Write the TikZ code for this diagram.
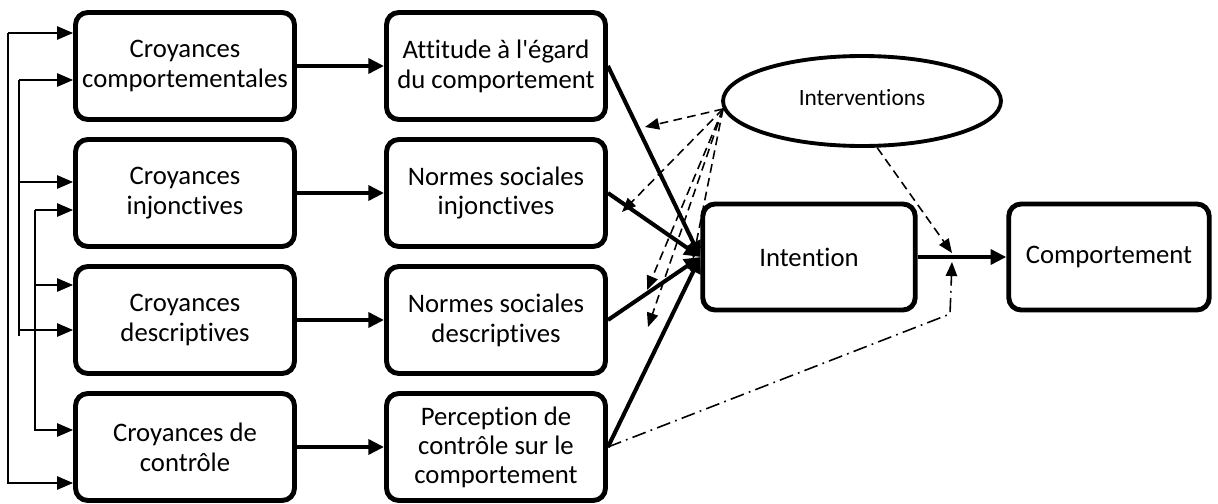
\documentclass[tikz,border=0pt]{standalone}
\usepackage{fontspec}
\setmainfont{Carlito}[Ligatures={NoCommon,TeXOff}]
\usepackage{tikz}
\usetikzlibrary{arrows.meta,positioning,calc,shapes.geometric}

\begin{document}
\begin{tikzpicture}[
    x=0.02cm, y=-0.02cm,
    box/.style={draw, line width=2.8pt, rounded corners=7pt, minimum width=4.38cm, minimum height=2.14cm, align=center, font=\fontsize{15.2}{17}\selectfont},
    arr/.style={-{Triangle[length=9pt,width=8.5pt]}, line width=2.3pt},
    fbk/.style={-{Triangle[length=9pt,width=7.5pt]}, line width=0.9pt},
    iarr/.style={-{Triangle[length=8pt,width=6.5pt]}, line width=0.9pt, dash pattern=on 5pt off 3pt},
    darr/.style={-{Triangle[length=8pt,width=6.5pt]}, line width=0.9pt, dash pattern=on 8pt off 3pt on 1pt off 3pt}
]
\useasboundingbox (0,0) rectangle (1218,504);

% croyances
\node[box] (c1) at (185,66) {Croyances\\comportementales};
\node[box] (c2) at (185,193) {Croyances\\injonctives};
\node[box] (c3) at (185,320) {Croyances\\descriptives};
\node[box] (c4) at (185,447) {Croyances de\\contr\^ole};

% determinants
\node[box] (att) at (496,66) {Attitude \`a l'\'egard\\du comportement};
\node[box] (ninj) at (496,193) {Normes sociales\\injonctives};
\node[box] (ndes) at (496,320) {Normes sociales\\descriptives};
\node[box, font=\fontsize{15.2}{16.5}\selectfont] (pcc) at (496,447) {Perception de\\contr\^ole sur le\\comportement};

\node[box, minimum width=4.25cm, minimum height=2.12cm] (int) at (809,257) {Intention};
\node[box, minimum width=4.01cm, minimum height=2.12cm] (comp) at (1109,257) {Comportement};

\node[draw, ellipse, line width=2.2pt, minimum width=5.56cm, minimum height=1.80cm, inner sep=0pt, font=\fontsize{13.3}{15}\selectfont] (iv) at (862,101) {\raisebox{4pt}{Interventions}};

\draw[arr] (c1) -- (att);
\draw[arr] (c2) -- (ninj);
\draw[arr] (c3) -- (ndes);
\draw[arr] (c4) -- (pcc);

\draw[arr] (att.east) -- (int.west);
\draw[arr] (ninj.east) -- (int.west);
\draw[arr] (ndes.east) -- (int.west);
\draw[arr] (pcc.east) -- (int.west);
\draw[arr] (int) -- (comp);

% retroactions a gauche
\coordinate (busA1) at (8,33);
\coordinate (busA2) at (8,483);
\coordinate (busB1) at (19,80);
\coordinate (busB2) at (19,336);
\coordinate (busC1) at (35,210);
\coordinate (busC2) at (35,430);
\draw[fbk] (busA1) -- (busA1 -| c1.west);
\draw[fbk] (busA1) -- (busA2) -- (busA2 -| c4.west);
\draw[fbk] (busB1) -- (busB1 -| c1.west);
\draw[line width=0.9pt] (busB1) -- (busB2);
\draw[fbk] (busB1 |- 0,182) -- (c2.west |- 0,182);
\draw[fbk] (busB1 |- 0,330) -- (c3.west |- 0,330);
\draw[fbk] (busC1) -- (busC1 -| c2.west);
\draw[fbk] (busC1) -- (busC2) -- (busC2 -| c4.west);
\draw[fbk] (busC1 |- 0,285) -- (c3.west |- 0,285);

% interventions
\coordinate (src) at (723,109);
\coordinate (t1) at (645,127);
\coordinate (t2) at (622,212);
\coordinate (t3) at (647,290);
\coordinate (t4) at (648,327);
\coordinate (t5) at (693,259);
\coordinate (hit) at (952,253);
\coordinate (up) at (952,262);
\coordinate (kink) at (950,314);
\draw[iarr] (src) -- (t1);
\draw[iarr] (src) -- (t2);
\draw[iarr] (src) -- (t3);
\draw[iarr] (src) -- (t4);
\draw[iarr] (src) -- (t5);
\draw[iarr] (iv.288) -- (hit);
\draw[darr] (pcc.east) -- (kink) -- (up);
\end{tikzpicture}
\end{document}
